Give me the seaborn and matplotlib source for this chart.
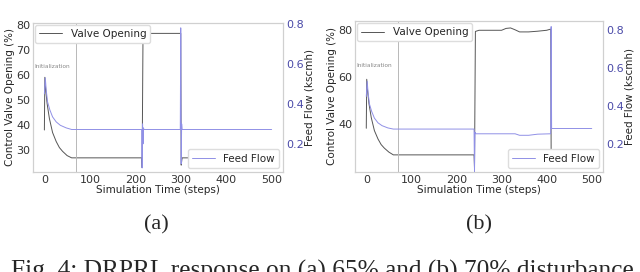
import matplotlib
matplotlib.use("Agg")
import matplotlib.pyplot as plt
import seaborn as sns
import pandas as pd

# =============================
#  Data
# =============================
# (a) 65% disturbance
t_valve_a = [0, 1, 3, 6, 11, 18, 26, 33, 40, 50, 60, 214, 215, 217, 300, 301, 303, 500]
valve_a = [38, 59, 54, 48.5, 42.6, 37, 33.4, 31, 29.5, 27.8, 26.9, 26.9, 23, 76.5, 76.5, 24, 26.9, 26.9]
t_flow_a = [0, 2, 4, 7, 12, 18, 26, 35, 48, 60, 214, 215, 216, 217, 218, 219, 299, 300, 301, 302, 303, 500]
flow_a = [0.45, 0.53, 0.47, 0.41, 0.37, 0.335, 0.31, 0.293, 0.28, 0.272, 0.272, 0.08, 0.30, 0.20, 0.28,
          0.272, 0.272, 0.78, 0.10, 0.30, 0.272, 0.272]

# (b) 70% disturbance
t_valve_b = [0, 1, 3, 6, 11, 18, 26, 33, 40, 50, 60, 239, 240, 242, 250, 300, 310, 320, 330, 340,
             360, 380, 400, 409, 410, 500]
valve_b = [38, 59, 54, 48.5, 42.6, 37, 33.4, 31, 29.5, 27.8, 26.6, 26.6, 21, 79.5, 80, 80, 80.8, 81,
           80.2, 79.3, 79.3, 79.6, 80, 80.5, 26.6, 26.6]
t_flow_b = [0, 2, 4, 7, 12, 18, 26, 35, 48, 60, 239, 240, 241, 243, 330, 340, 360, 380, 409, 410, 411, 500]
flow_b = [0.45, 0.53, 0.47, 0.41, 0.37, 0.335, 0.31, 0.295, 0.283, 0.277, 0.277, 0.05, 0.26, 0.252,
          0.252, 0.244, 0.244, 0.25, 0.252, 0.82, 0.28, 0.28]

init_step = 70
left_ticks_a = [30, 40, 50, 60, 70, 80]
left_ticks_b = [40, 60, 80]
right_ticks = [0.2, 0.4, 0.6, 0.8]
x_ticks = [0, 100, 200, 300, 400, 500]

panels = [
    dict(tv=t_valve_a, v=valve_a, tf=t_flow_a, f=flow_a, lticks=left_ticks_a,
         lylim=(21.3, 80.7), rylim=(0.06, 0.805), pos=[0.0516, 0.368, 0.3906, 0.548],
         init_y=63.5, tag="(a)", tag_x=0.245),
    dict(tv=t_valve_b, v=valve_b, tf=t_flow_b, f=flow_b, lticks=left_ticks_b,
         lylim=(19.3, 84), rylim=(0.05, 0.85), pos=[0.5547, 0.368, 0.3875, 0.555],
         init_y=65, tag="(b)", tag_x=0.748),
]

# =============================
#  Style
# =============================
sns.set_style("white")
plt.rcParams["font.family"] = ["DejaVu Sans"]

valve_color = "#555555"
flow_color = "#9090e6"
tick_blue = "#4a4aa8"
spine_color = "#d0d0d0"

fig = plt.figure(figsize=(6.4, 2.72), dpi=100)

for p in panels:
    ax = fig.add_axes(p["pos"])
    dv = pd.DataFrame({"step": p["tv"], "value": p["v"]})
    df = pd.DataFrame({"step": p["tf"], "value": p["f"]})

    sns.lineplot(data=dv, x="step", y="value", ax=ax, color=valve_color, linewidth=0.7,
                 label="Valve Opening")
    ax.axvline(init_step, color="#b8b8b8", linewidth=0.7)
    ax.text(18, p["init_y"], "Initialization", fontsize=4.2, color="#888888",
            ha="center", va="center")
    ax.set_xlim(-25, 525)
    ax.set_ylim(*p["lylim"])
    ax.set_xticks(x_ticks)
    ax.set_yticks(p["lticks"])
    ax.set_xlabel("Simulation Time (steps)", fontsize=7.5, labelpad=0)
    ax.set_ylabel("Control Valve Opening (%)", fontsize=7.5, labelpad=1)
    ax.tick_params(axis="both", length=0, labelsize=8, pad=2, colors="#333333")
    ax.legend(loc="upper left", fontsize=7.5, frameon=True, edgecolor="#dddddd",
              handlelength=2.2, borderpad=0.4, borderaxespad=0.2, framealpha=1)

    ax2 = ax.twinx()
    ax2.set_position(p["pos"])
    sns.lineplot(data=df, x="step", y="value", ax=ax2, color=flow_color, linewidth=0.7,
                 label="Feed Flow")
    ax2.set_xlim(-25, 525)
    ax2.set_ylim(*p["rylim"])
    ax2.set_yticks(right_ticks)
    ax2.set_ylabel("Feed Flow (kscmh)", fontsize=7.5, labelpad=1)
    ax2.tick_params(axis="y", length=0, labelsize=8, pad=2, labelcolor=tick_blue)
    ax2.legend(loc="lower right", fontsize=7.5, frameon=True, edgecolor="#dddddd",
               handlelength=2.2, borderpad=0.4, borderaxespad=0.4, framealpha=1)

    for a in (ax, ax2):
        for s in a.spines.values():
            s.set_color(spine_color)
            s.set_linewidth(0.8)

    fig.text(p["tag_x"], 0.173, p["tag"], fontsize=16, family="Liberation Serif",
             ha="center", va="center")

fig.text(0.503, -0.022, "Fig. 4: DRPRL response on (a) 65% and (b) 70% disturbance",
         fontsize=18.3, family="Liberation Serif", ha="center", va="baseline")

plt.savefig("out.png", dpi=100)
plt.close()
